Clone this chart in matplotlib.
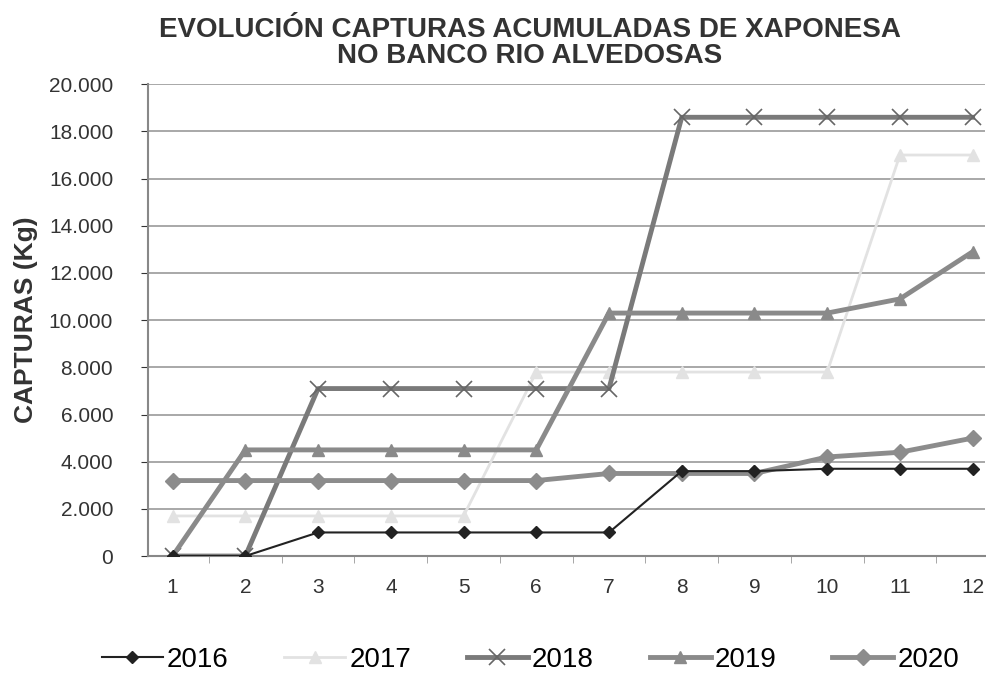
import numpy as np
import matplotlib.pyplot as plt
from matplotlib.ticker import FuncFormatter, MultipleLocator

plt.rcParams['font.family'] = ['Liberation Sans', 'DejaVu Sans']

months = list(range(1, 13))
c2016 = [0, 0, 1000, 1000, 1000, 1000, 1000, 3600, 3600, 3700, 3700, 3700]
c2017 = [1700, 1700, 1700, 1700, 1700, 7800, 7800, 7800, 7800, 7800, 17000, 17000]
c2018 = [0, 0, 7100, 7100, 7100, 7100, 7100, 18600, 18600, 18600, 18600, 18600]
c2019 = [0, 4500, 4500, 4500, 4500, 4500, 10300, 10300, 10300, 10300, 10900, 12900]
c2020 = [3200, 3200, 3200, 3200, 3200, 3200, 3500, 3500, 3500, 4200, 4400, 5000]

fig = plt.figure(figsize=(9.86, 6.74), dpi=100)
ax = fig.add_axes([0.150, 0.175, 0.849, 0.700])

# series drawn back to front
ax.plot(months, c2017, color='#e2e2e2', lw=2, marker='^', ms=8, label='2017', zorder=3)
ax.plot(months, c2016, color='#222222', lw=1.5, marker='D', ms=6, label='2016', zorder=6)
ax.plot(months, c2018, color='#7a7a7a', lw=3.5, marker='x', ms=11, mew=1.2,
        mec='#666666', label='2018', zorder=4)
ax.plot(months, c2019, color='#8a8a8a', lw=3.5, marker='^', ms=9, label='2019', zorder=4)
ax.plot(months, c2020, color='#8c8c8c', lw=3.5, marker='D', ms=8, label='2020', zorder=5)

ax.set_xlim(0.66, 12.17)
ax.set_ylim(0, 20000)
ax.set_xticks(months)
ax.set_xticks(np.arange(1.5, 12.5, 1), minor=True)
ax.tick_params(axis='x', which='major', length=0, labelsize=15, pad=16, colors='#333333')
ax.tick_params(axis='x', which='minor', length=5, color='#999999')
ax.yaxis.set_major_locator(MultipleLocator(2000))
ax.yaxis.set_major_formatter(FuncFormatter(lambda v, p: f'{int(v):,}'.replace(',', '.')))
ax.tick_params(axis='y', length=5, labelsize=15, colors='#333333', pad=20)
ax.grid(axis='y', color='#9a9a9a', lw=1.2)
ax.set_axisbelow(True)
for s in ['top', 'right']:
    ax.spines[s].set_visible(False)
ax.spines['left'].set_color('#888888')
ax.spines['left'].set_linewidth(1.5)
ax.spines['bottom'].set_color('#888888')
ax.spines['bottom'].set_linewidth(1.5)

ax.set_ylabel('CAPTURAS (Kg)', fontsize=19, fontweight='bold', color='#333333', labelpad=8)
fig.suptitle('EVOLUCIÓN CAPTURAS ACUMULADAS DE XAPONESA\nNO BANCO RIO ALVEDOSAS',
             fontsize=20, fontweight='bold', color='#333333', y=0.975, x=0.537,
             linespacing=1.0)

handles, labels = ax.get_legend_handles_labels()
order = [labels.index(y) for y in ['2016', '2017', '2018', '2019', '2020']]
fig.legend([handles[i] for i in order], [labels[i] for i in order],
           loc='lower center', bbox_to_anchor=(0.538, -0.035), ncol=5, frameon=False,
           fontsize=20, handlelength=2.2, columnspacing=2.0, handletextpad=0.15)

plt.savefig('out.png', dpi=100)
